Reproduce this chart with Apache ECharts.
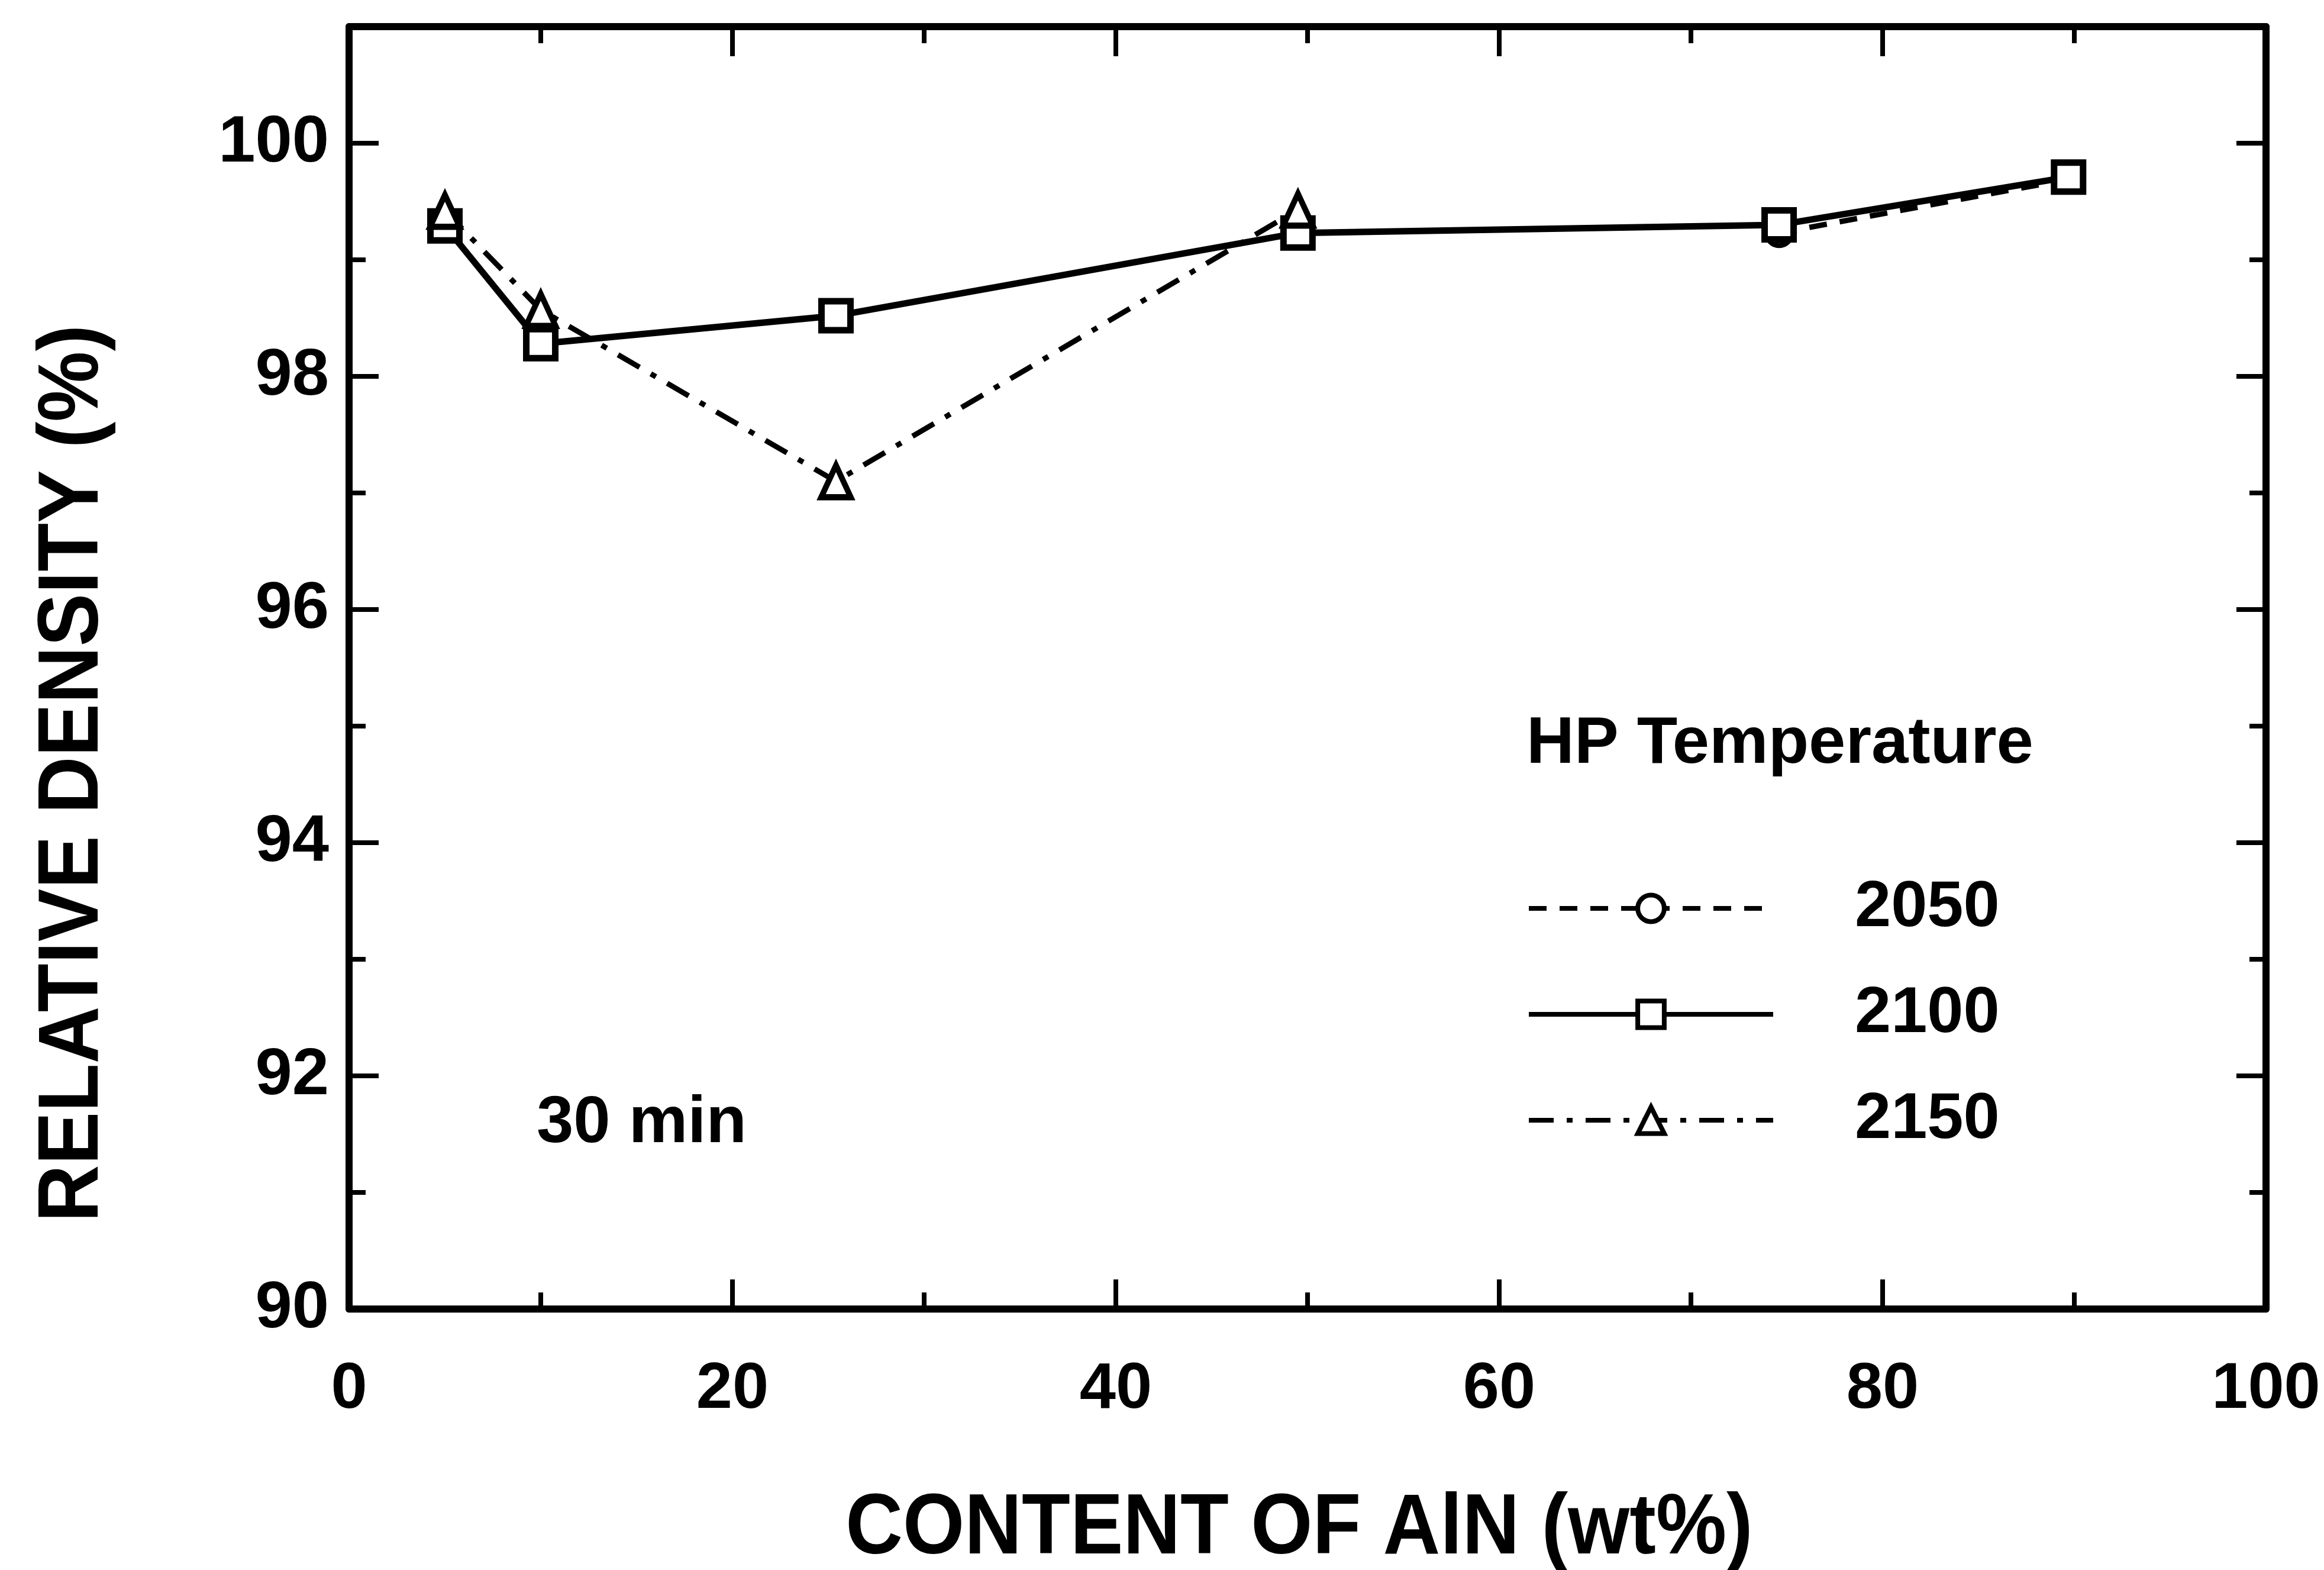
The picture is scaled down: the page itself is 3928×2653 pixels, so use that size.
<!DOCTYPE html>
<html><head><meta charset="utf-8">
<script src="https://cdn.jsdelivr.net/npm/echarts@6/dist/echarts.min.js"></script>
<style>html,body{margin:0;padding:0;background:#fff}#c{width:3928px;height:2653px}</style>
</head><body><div id="c"></div>
<script>
// ---- data ----
const content2050 = [74.6, 89.7];
const density2050 = [99.23, 99.69];
const content2100 = [5, 10, 25.4, 49.5, 74.6, 89.7];
const density2100 = [99.29, 98.28, 98.52, 99.23, 99.30, 99.71];
const content2150 = [5, 10, 25.4, 49.5];
const density2150 = [99.42, 98.57, 97.10, 99.43];
const seriesNames = ['2050', '2100', '2150'];
const xTickLabels = [0, 20, 40, 60, 80, 100];
const yTickLabels = [90, 92, 94, 96, 98, 100];
const xTitle = 'CONTENT OF AlN (wt%)';
const yTitle = 'RELATIVE DENSITY (%)';
const legendTitle = 'HP Temperature';
const noteText = '30 min';

const FONT = "'Liberation Sans', Arial, Helvetica, sans-serif";
const BLACK = '#000';
const zip = (a, b) => a.map((v, i) => [v, b[i]]);

const chart = echarts.init(document.getElementById('c'), null, {renderer: 'canvas'});

function xAxisCfg(pos, labels) {
  return {
    type: 'value', position: pos, min: 0, max: 100, interval: 20,
    axisLine: {show: true, onZero: false, lineStyle: {color: BLACK, width: 12}},
    axisTick: {show: true, inside: true, length: 50, lineStyle: {color: BLACK, width: 8}},
    minorTick: {show: true, splitNumber: 2, length: 28, lineStyle: {color: BLACK, width: 8}},
    axisLabel: labels ? {
      show: true, margin: 82, color: BLACK, fontFamily: FONT, fontWeight: 'bold', fontSize: 110,
      formatter: v => xTickLabels.indexOf(v) >= 0 ? String(v) : ''
    } : {show: false},
    splitLine: {show: false}, minorSplitLine: {show: false}
  };
}
function yAxisCfg(pos, labels, major) {
  return {
    type: 'value', position: pos, min: 90, max: 101, interval: major ? 2 : 1,
    axisLine: {show: major, onZero: false, lineStyle: {color: BLACK, width: 12}},
    axisTick: {show: true, inside: true, length: major ? 50 : 28, lineStyle: {color: BLACK, width: 8}},
    axisLabel: labels ? {
      show: true, margin: 34, color: BLACK, fontFamily: FONT, fontWeight: 'bold', fontSize: 112,
      formatter: v => yTickLabels.indexOf(v) >= 0 ? String(v) : ''
    } : {show: false},
    splitLine: {show: false}
  };
}

const option = {
  backgroundColor: '#fff',
  animation: false,
  grid: {left: 590, right: 98, top: 45, bottom: 441, containLabel: false},
  xAxis: [xAxisCfg('bottom', true), xAxisCfg('top', false)],
  yAxis: [yAxisCfg('left', true, true), yAxisCfg('left', false, false),
          yAxisCfg('right', false, true), yAxisCfg('right', false, false)],
  legend: {
    orient: 'vertical', left: 2580, top: 1480, padding: 0,
    itemWidth: 413, itemHeight: 56, itemGap: 69,
    data: seriesNames,
    lineStyle: {width: 8},
    itemStyle: {borderWidth: 8},
    textStyle: {color: BLACK, fontFamily: FONT, fontWeight: 'bold', fontSize: 110,
                lineHeight: 50, padding: [0, 0, 0, 133]}
  },
  graphic: [
    {type: 'text', x: 2580, y: 1258, style: {text: legendTitle, fill: BLACK,
      font: 'bold 112px ' + FONT, textAlign: 'left', textVerticalAlign: 'middle'}},
    {type: 'text', x: 907, y: 1899, style: {text: noteText, fill: BLACK,
      font: 'bold 112px ' + FONT, textAlign: 'left', textVerticalAlign: 'middle'}},
    {type: 'text', x: 2196, y: 2585, scaleY: 1.08, style: {text: xTitle, fill: BLACK,
      font: 'bold 134px ' + FONT, textAlign: 'center', textVerticalAlign: 'middle'}},
    {type: 'text', x: 125, y: 1307, rotation: Math.PI / 2, scaleY: 1.08, style: {text: yTitle, fill: BLACK,
      font: 'bold 134px ' + FONT, textAlign: 'center', textVerticalAlign: 'middle'}}
  ],
  series: [
    {
      name: seriesNames[0], type: 'line', xAxisIndex: 0, yAxisIndex: 0,
      data: zip(content2050, density2050),
      symbol: 'circle', symbolSize: 42, showAllSymbol: true, z: 2,
      itemStyle: {color: '#fff', borderColor: BLACK, borderWidth: 9},
      lineStyle: {color: BLACK, width: 9, type: [30, 22]}
    },
    {
      name: seriesNames[1], type: 'line', xAxisIndex: 0, yAxisIndex: 0,
      data: zip(content2100, density2100),
      symbol: 'rect', symbolSize: 49, showAllSymbol: true, z: 3,
      itemStyle: {color: '#fff', borderColor: BLACK, borderWidth: 11},
      lineStyle: {color: BLACK, width: 11, type: 'solid'}
    },
    {
      name: seriesNames[2], type: 'line', xAxisIndex: 0, yAxisIndex: 0,
      data: zip(content2150, density2150),
      symbol: 'triangle', symbolSize: [50, 54], showAllSymbol: true, z: 4,
      itemStyle: {color: '#fff', borderColor: BLACK, borderWidth: 10},
      lineStyle: {color: BLACK, width: 9, type: [42, 22, 10, 22]}
    }
  ]
};
chart.setOption(option);
</script>
</body></html>
